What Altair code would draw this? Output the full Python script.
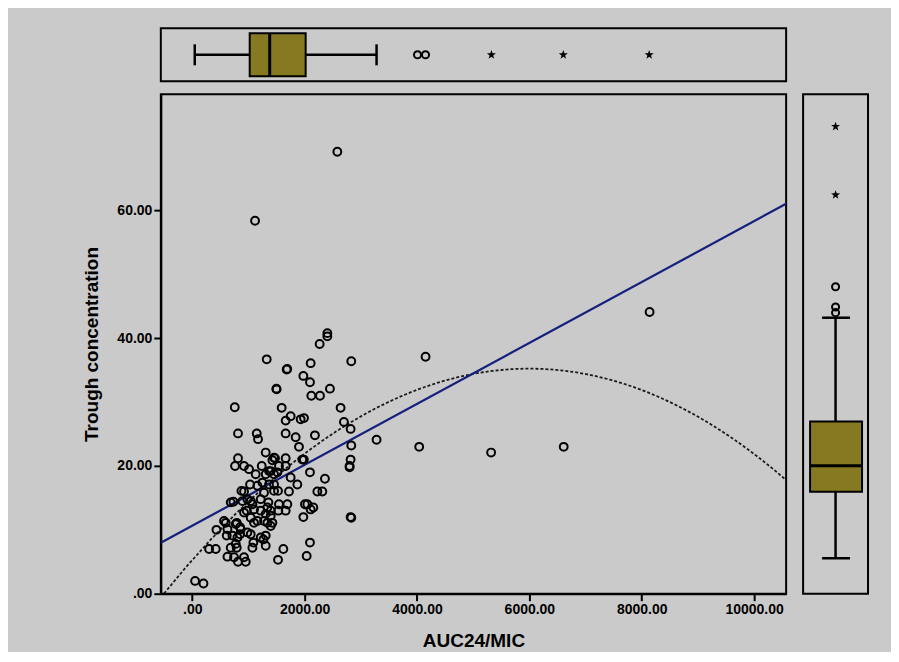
import altair as alt
import pandas as pd

# ---- scatter data (AUC24/MIC vs trough concentration) ----
auc24_mic = [50, 199, 2404, 2404, 2267, 1325, 2107, 2830, 4152, 1680, 1690, 1977, 2095, 1497, 1500,
             2119, 2273, 2450, 756, 1591, 2640, 1751, 1662, 1929, 1988, 2699, 2818, 814, 1147, 1170,
             1662, 1840, 2183, 1899, 2830, 3280, 4039, 5319, 1307, 814, 1472, 1662, 1959, 1985, 2818,
             761, 921, 1010, 1236, 1426, 1543, 1662, 2800, 2800, 2095, 1307, 1396, 1515, 1751, 1870,
             2361, 1455, 1028, 1159, 875, 921, 1721, 2226, 2315, 1277, 684, 732, 892, 1040, 1218,
             1355, 1543, 1692, 2005, 2107, 2155, 969, 1099, 1218, 1307, 1396, 1532, 1662, 1977, 2818,
             2830, 596, 791, 850, 1040, 1099, 1277, 1337, 1426, 430, 613, 715, 850, 981, 1088,
             1307, 1266, 684, 791, 299, 418, 1621, 2095, 626, 743, 814, 951, 1526, 2036,
             1455, 1366, 1455, 1248, 1366, 1455, 981, 1070, 1337, 921, 1396, 565, 626, 774, 862,
             803, 1040, 1218, 774, 921, 1129, 1159, 1396, 1070, 1307, 2048, 1526,
             2582, 1117, 8140, 6611]
trough_conc = [2.0, 1.6, 40.8, 40.3, 39.1, 36.7, 36.1, 36.4, 37.1, 35.1, 35.2, 34.1, 33.1, 32.1, 32.0,
               31.0, 31.0, 32.1, 29.2, 29.1, 29.1, 27.8, 27.1, 27.3, 27.5, 26.9, 25.8, 25.1, 25.1, 24.2,
               25.1, 24.5, 24.8, 23.0, 23.2, 24.1, 23.0, 22.1, 22.1, 21.2, 21.2, 21.2, 21.0, 21.0, 21.0,
               20.0, 20.0, 19.5, 20.0, 20.9, 20.0, 20.0, 20.0, 19.8, 19.0, 18.7, 19.2, 19.0, 18.2, 17.1,
               18.0, 17.1, 17.1, 16.9, 16.1, 16.0, 16.0, 16.0, 16.0, 15.8, 14.3, 14.4, 14.5, 14.5, 14.8,
               14.3, 14.0, 14.0, 14.0, 13.2, 13.5, 13.0, 13.2, 13.0, 12.5, 13.0, 13.0, 13.0, 12.0, 12.0,
               11.9, 11.1, 11.1, 10.4, 11.9, 11.1, 11.4, 11.1, 11.1, 10.0, 9.1, 9.1, 9.3, 9.6, 8.0,
               9.1, 8.5, 7.2, 7.2, 7.0, 7.0, 7.0, 8.0, 5.8, 5.7, 5.0, 5.0, 5.3, 5.9,
               21.3, 19.2, 18.7, 17.4, 17.1, 16.1, 14.8, 14.0, 13.5, 12.7, 12.2, 11.4, 10.1, 10.9, 10.1,
               8.8, 9.3, 8.8, 7.8, 5.7, 18.7, 11.4, 10.6, 7.2, 7.5, 14.0, 16.1,
               69.2, 58.4, 44.1, 23.0]

# ---- marginal box plot summaries: [lower whisker, Q1, median, Q3, upper whisker] ----
auc_box = [44, 1022, 1378, 2018, 3280]
auc_outliers = [4009, 4151]
auc_extremes = [5324, 6604, 8133]
trough_box = [1.0, 11.5, 15.6, 22.6, 39.0]
trough_outliers = [39.8, 40.7, 43.9]
trough_extremes = [58.4, 69.2]

# ---- axis settings ----
x_domain = [-560, 10570]
y_domain = [0, 78.2]
box_y_domain = [-4.6, 74.3]
x_ticks = [0, 2000, 4000, 6000, 8000, 10000]
y_ticks = [0, 20, 40, 60]

OLIVE = "#857a21"
NAVY = "#13207c"
BG = "#cacaca"
STAR = "M0,-1L0.24,-0.33L0.95,-0.31L0.38,0.12L0.59,0.81L0,0.4L-0.59,0.81L-0.38,0.12L-0.95,-0.31L-0.24,-0.33Z"
FONT = "Liberation Sans"
LABEL_EXPR = "datum.value == 0 ? '.00' : format(datum.value, '.2f')"

W, H = 626, 500
TOP_H, RIGHT_W = 53, 65

scatter_df = pd.DataFrame({"auc": auc24_mic, "trough": trough_conc})
xs = alt.Scale(domain=x_domain, nice=False, zero=False)
ys = alt.Scale(domain=y_domain, nice=False, zero=False)
bys = alt.Scale(domain=box_y_domain, nice=False, zero=False)

# ---------------- main scatter ----------------
base = alt.Chart(scatter_df)
x_enc = alt.X("auc:Q", scale=xs,
              axis=alt.Axis(values=x_ticks, labelExpr=LABEL_EXPR, title="AUC24/MIC",
                            minExtent=24, maxExtent=24, titlePadding=14))
y_enc = alt.Y("trough:Q", scale=ys,
              axis=alt.Axis(values=y_ticks, labelExpr=LABEL_EXPR, title="Trough concentration",
                            minExtent=52, maxExtent=52, titlePadding=7))

points = base.mark_point(shape="circle", filled=False, size=62, strokeWidth=2, color="black",
                         opacity=1).encode(x=x_enc, y=y_enc)
lin = base.transform_regression("auc", "trough", method="linear", extent=x_domain).mark_line(
    color=NAVY, strokeWidth=2.2, clip=True).encode(x=alt.X("auc:Q", scale=xs), y=alt.Y("trough:Q", scale=ys))
quad = base.transform_regression("auc", "trough", method="poly", order=2, extent=x_domain).mark_line(
    color="#1a1a1a", strokeWidth=1.8, strokeDash=[3, 2], clip=True).encode(
    x=alt.X("auc:Q", scale=xs), y=alt.Y("trough:Q", scale=ys))
main = alt.layer(quad, lin, points).properties(width=W, height=H)

# ---------------- top box plot (AUC24/MIC) ----------------
tb = pd.DataFrame({"lo": [auc_box[0]], "q1": [auc_box[1]], "med": [auc_box[2]],
                   "q3": [auc_box[3]], "hi": [auc_box[4]]})
tbase = alt.Chart(tb)
nx = alt.X("lo:Q", scale=xs, axis=None)
t_whisk = tbase.mark_rule(color="black", strokeWidth=2.5).encode(
    x=nx, x2="hi:Q", y=alt.value(26.5))
t_cap_lo = tbase.mark_rule(color="black", strokeWidth=2.5).encode(
    x=nx, y=alt.value(16), y2=alt.value(37))
t_cap_hi = tbase.mark_rule(color="black", strokeWidth=2.5).encode(
    x=alt.X("hi:Q", scale=xs, axis=None), y=alt.value(16), y2=alt.value(37))
t_box = tbase.mark_rect(fill=OLIVE, stroke="black", strokeWidth=2).encode(
    x=alt.X("q1:Q", scale=xs, axis=None), x2="q3:Q", y=alt.value(5), y2=alt.value(48))
t_med = tbase.mark_rule(color="black", strokeWidth=3).encode(
    x=alt.X("med:Q", scale=xs, axis=None), y=alt.value(5), y2=alt.value(48))
t_out = alt.Chart(pd.DataFrame({"v": auc_outliers})).mark_point(
    shape="circle", filled=False, size=50, strokeWidth=2, color="black", opacity=1).encode(
    x=alt.X("v:Q", scale=xs, axis=None), y=alt.value(26.5))
t_ext = alt.Chart(pd.DataFrame({"v": auc_extremes})).mark_point(
    shape=STAR, filled=True, size=90, color="black", opacity=1).encode(
    x=alt.X("v:Q", scale=xs, axis=None), y=alt.value(26.5))
top = alt.layer(t_whisk, t_cap_lo, t_cap_hi, t_box, t_med, t_out, t_ext).properties(
    width=W, height=TOP_H)

# ---------------- right box plot (trough) ----------------
rb = pd.DataFrame({"lo": [trough_box[0]], "q1": [trough_box[1]], "med": [trough_box[2]],
                   "q3": [trough_box[3]], "hi": [trough_box[4]]})
rbase = alt.Chart(rb)
ny = alt.Y("lo:Q", scale=bys, axis=None)
r_whisk = rbase.mark_rule(color="black", strokeWidth=2.5).encode(
    y=ny, y2="hi:Q", x=alt.value(32.5))
r_cap_lo = rbase.mark_rule(color="black", strokeWidth=2.5).encode(
    y=ny, x=alt.value(19), x2=alt.value(47))
r_cap_hi = rbase.mark_rule(color="black", strokeWidth=2.5).encode(
    y=alt.Y("hi:Q", scale=bys, axis=None), x=alt.value(19), x2=alt.value(47))
r_box = rbase.mark_rect(fill=OLIVE, stroke="black", strokeWidth=2).encode(
    y=alt.Y("q1:Q", scale=bys, axis=None), y2="q3:Q", x=alt.value(7), x2=alt.value(59))
r_med = rbase.mark_rule(color="black", strokeWidth=3).encode(
    y=alt.Y("med:Q", scale=bys, axis=None), x=alt.value(7), x2=alt.value(59))
r_out = alt.Chart(pd.DataFrame({"v": trough_outliers})).mark_point(
    shape="circle", filled=False, size=50, strokeWidth=2, color="black", opacity=1).encode(
    y=alt.Y("v:Q", scale=bys, axis=None), x=alt.value(32.5))
r_ext = alt.Chart(pd.DataFrame({"v": trough_extremes})).mark_point(
    shape=STAR, filled=True, size=90, color="black", opacity=1).encode(
    y=alt.Y("v:Q", scale=bys, axis=None), x=alt.value(32.5))
right = alt.layer(r_whisk, r_cap_lo, r_cap_hi, r_box, r_med, r_out, r_ext).properties(
    width=RIGHT_W, height=H)

row = alt.hconcat(main, right, spacing=17, bounds="flush").resolve_scale(x="independent", y="independent")
chart = (
    alt.vconcat(top, row, spacing=13, bounds="flush")
    .resolve_scale(x="independent", y="independent")
    .properties(background=BG, padding={"left": 74, "top": 19, "right": 22, "bottom": 0})
    .configure_view(stroke="black", strokeWidth=2, fill=None)
    .configure_axis(
        domainColor="black", domainWidth=2, tickColor="black", tickWidth=2, tickSize=7,
        labelFont=FONT, labelFontWeight="bold", labelFontSize=14, labelColor="black", labelPadding=2,
        titleFont=FONT, titleFontWeight="bold", titleFontSize=19, titleColor="black", grid=False,
    )
)

chart.save("out.html", embed_options={"renderer": "svg", "actions": False})
